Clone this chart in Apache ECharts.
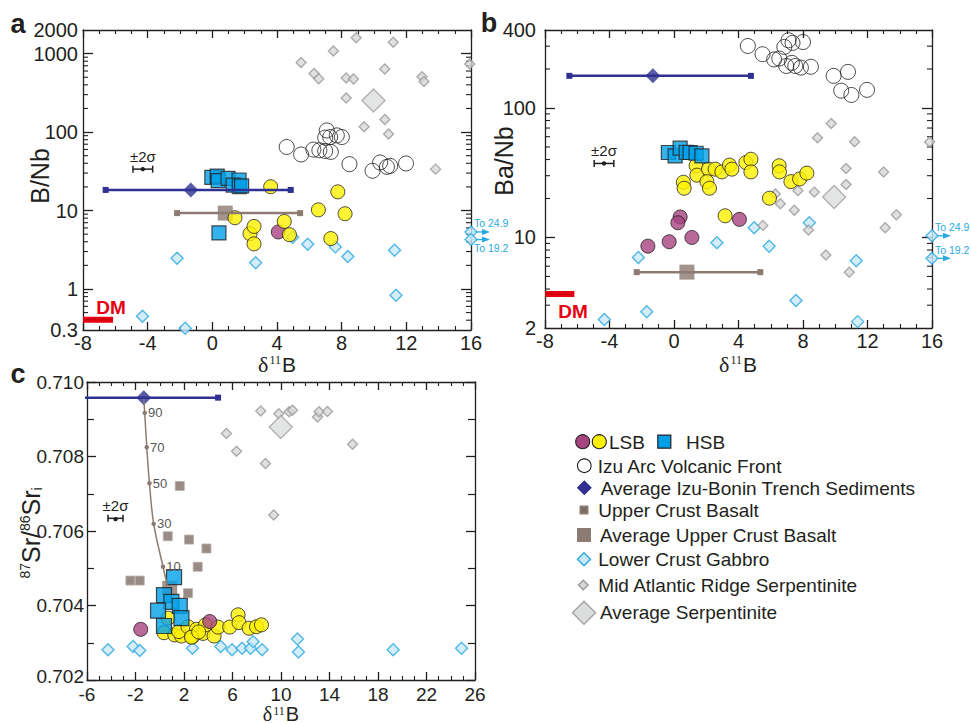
<!DOCTYPE html>
<html><head><meta charset="utf-8">
<script src="https://cdn.jsdelivr.net/npm/echarts@6/dist/echarts.min.js"></script>
<style>html,body{margin:0;padding:0;background:#fff}#c{width:971px;height:724px}</style>
</head><body><div id="c"></div>
<script>
// ---------------- Panel a : δ11B vs B/Nb ----------------
const aLSB = [[3.61,20.1],[1.40,8.1],[2.33,5.07],[2.58,6.27],[2.58,3.76],[4.45,7.26],[4.77,4.92],[6.56,10.2],[7.76,17.3],[8.21,9.1],[7.33,4.39]];
const aLSBp = [[4.08,5.33]];
const aHSB = [[-0.03,26.5],[0.30,27.5],[0.36,24.0],[0.97,25.7],[1.65,24.5],[1.29,21.1],[1.67,20.1],[1.81,20.6],[0.41,5.18]];
const aArc = [[4.60,64.6],[5.49,51.8],[6.25,59.8],[6.62,58.6],[6.98,57.4],[7.33,55.8],[7.08,105],[6.98,84.9],[7.29,86.4],[7.70,90.8],[8.01,86.4],[8.48,39.0],[9.91,32.1],[10.38,41.0],[10.80,36.0],[11.00,37.1],[11.98,39.8]];
const aSerp = [[8.90,1596],[11.19,1393],[7.49,1081],[5.49,769],[6.29,558],[6.58,479],[8.28,488],[8.73,475],[10.67,635],[12.97,507],[13.09,442],[8.28,272],[10.67,145],[9.39,117],[10.90,94.5],[13.81,33.7],[15.92,735]];
const aSerpAvg = [[9.97,252]];
const aGab = [[-2.18,2.47],[2.68,2.16],[4.97,4.55],[5.90,3.71],[7.61,3.44],[8.38,2.59],[11.27,3.12],[11.36,0.83],[-4.32,0.448],[-1.68,0.315],[24.9,5.33],[19.2,4.26]];
const aTrench = [-1.33, 18.3];
const aTrenchRange = [-6.6, 4.85];
const aUCBavg = [0.80, 9.27];
const aUCBRange = [-2.18, 5.43];
const aDM = [[-8, 0.405], [-6.14, 0.405]];
const aSigma = [-4.30, 33.7, 0.61];
const aYLabels = [0.3, 1, 10, 100, 1000, 2000];
const aYMajor = [1, 10, 100, 1000];
const aYMinor = [0.4,0.5,0.6,0.7,0.8,0.9,2,3,4,5,6,7,8,9,20,30,40,50,60,70,80,90,200,300,400,500,600,700,800,900];

// ---------------- Panel b : δ11B vs Ba/Nb ----------------
const bLSB = [[1.37,35.8],[1.42,30.3],[2.14,33.7],[2.55,33.7],[2.97,32.1],[3.44,36.2],[3.59,33.7],[4.46,37.9],[4.77,40.2],[4.77,32.1],[6.52,35.8],[6.54,32.1],[7.25,27.0],[7.79,28.3],[8.24,31.4],[0.58,26.7],[0.63,24.0],[2.04,27.0],[2.20,24.0],[5.92,20.1],[3.17,14.7]];
const bLSBp = [[0.38,14.4],[0.24,13.0],[-0.30,9.27],[-1.62,8.57],[1.11,10.0],[4.06,13.8]];
const bHSB = [[-0.35,45.3],[0.07,42.6],[0.38,48.9],[0.75,45.5],[1.0,45.3],[1.37,44.7],[1.73,42.6]];
const bArc = [[4.58,301],[5.49,260],[6.21,237],[6.53,241],[6.84,296],[7.10,333],[7.35,318],[8.00,323],[6.96,211],[7.31,223],[7.52,211],[7.87,205],[8.49,208],[9.90,177],[10.79,190],[10.37,136],[11.0,126],[11.97,138]];
const bSerp = [[9.75,75.9],[8.90,58.9],[11.2,54.9],[15.85,54.6],[10.67,34.1],[13.0,32.0],[10.67,25.6],[7.69,23.0],[8.70,22.4],[6.28,21.7],[6.59,18.2],[7.46,16.2],[13.79,15.0],[5.51,12.4],[8.34,11.4],[13.10,11.9],[9.42,7.33],[10.87,5.40]];
const bSerpAvg = [[9.93,20.5]];
const bGab = [[-2.21,7.0],[2.66,9.1],[4.97,11.9],[5.90,8.57],[8.39,13.0],[11.30,6.6],[7.56,3.26],[-1.69,2.67],[-4.32,2.33],[11.39,2.24],[24.9,10.3],[19.2,6.9]];
const bTrench = [-1.31, 177];
const bTrenchRange = [-6.49, 4.77];
const bUCBavg = [0.80, 5.40];
const bUCBRange = [-2.31, 5.35];
const bDM = [[-8, 3.66], [-6.18, 3.66]];
const bSigma = [-4.34, 37.3, 0.61];
const bYLabels = [2, 10, 100, 400];
const bYMajor = [10, 100];
const bYMinor = [3,4,5,6,7,8,9,20,30,40,50,60,70,80,90,200,300];

// ---------------- Panel c : δ11B vs 87Sr/86Sr(i) ----------------
const cLSB = [[0.35,0.70327],[0.68,0.70366],[1.24,0.70321],[1.79,0.70318],[1.57,0.70330],[2.33,0.70343],[2.70,0.70316],[3.03,0.70336],[3.57,0.70325],[3.77,0.70348],[4.48,0.70318],[4.81,0.70342],[5.77,0.70342],[6.46,0.70375],[6.54,0.70354],[7.37,0.70339],[7.98,0.70343],[8.39,0.70348],[2.61,0.70315],[3.21,0.70329]];
const cLSBp = [[-1.57,0.70336],[4.12,0.70357]];
const cHSB = [[1.18,0.70476],[0.35,0.70428],[0.96,0.70410],[1.65,0.70399],[-0.14,0.70386],[1.79,0.70366],[0.35,0.70345]];
const cUCB = [[1.65,0.70721],[0.66,0.70586],[2.42,0.70577],[3.85,0.70553],[3.13,0.70504],[-2.42,0.70467],[-1.65,0.70467],[2.33,0.70433]];
const cGab = [[-4.27,0.70281],[-2.20,0.70290],[-1.65,0.70279],[2.70,0.70285],[5.03,0.70290],[5.96,0.70281],[6.79,0.70285],[7.48,0.70285],[7.70,0.70303],[8.44,0.70281],[11.36,0.70310],[11.44,0.70275],[19.25,0.70281],[24.89,0.70285]];
const cSerp = [[8.33,0.70922],[9.82,0.70915],[10.67,0.70920],[10.95,0.70924],[13.01,0.70906],[13.14,0.70920],[13.83,0.70921],[5.50,0.70862],[6.33,0.70814],[8.72,0.70781],[15.90,0.70833],[9.40,0.70643]];
const cSerpAvg = [[9.98,0.70879]];
const cTrench = [-1.32, 0.70958];
const cTrenchRange = [-6.5, 4.81];
const cUCBavg = [0.82, 0.70446];
const cMix = [[-1.32,0.70958],[-1.24,0.70917],[-1.07,0.70825],[-0.85,0.70728],[-0.50,0.70619],[0.27,0.70504],[0.62,0.70455]];
const cMixLabels = ['', '90', '70', '50', '30', '10', ''];
const cSigma = [-3.65, 0.70634, 0.62];

// ---------------- styles ----------------
const INK = '#231f20';
const FONT = '"Liberation Sans", Arial, sans-serif';
const BLUE = '#29A9E0';
const TICKFS = 20;
const ST = {
  lsb:    {symbol:'circle', symbolSize:14, itemStyle:{color:'#FFF100', borderColor:INK, borderWidth:1}},
  lsbP:   {symbol:'circle', symbolSize:14, itemStyle:{color:'#A6447F', borderColor:INK, borderWidth:1}},
  hsb:    {symbol:'rect', symbolSize:14, itemStyle:{color:'#00A0E9', borderColor:INK, borderWidth:1.2}},
  arc:    {symbol:'circle', symbolSize:15, itemStyle:{color:'rgba(255,255,255,0)', borderColor:INK, borderWidth:1}},
  gab:    {symbol:'diamond', symbolSize:12, itemStyle:{color:'#C9E8F8', borderColor:BLUE, borderWidth:1.4}},
  serp:   {symbol:'diamond', symbolSize:10, itemStyle:{color:'#D8D8D8', borderColor:'#9A9A9A', borderWidth:1.4}},
  serpAvg:{symbol:'diamond', symbolSize:23, itemStyle:{color:'#DCDDDD', borderColor:'#A3A3A3', borderWidth:1.4}},
  ucb:    {symbol:'rect', symbolSize:9, itemStyle:{color:'#7E6E66', borderColor:'#B8AEA8', borderWidth:1}},
  ucbAvg: {symbol:'rect', symbolSize:15, itemStyle:{color:'#8C7B72'}},
  trench: {symbol:'diamond', symbolSize:15, itemStyle:{color:'#2E3192'}}
};

function sc(xi, yi, data, st) {
  return Object.assign({type:'scatter', xAxisIndex:xi, yAxisIndex:yi, data, silent:true, animation:false}, st);
}
function errBar(xi, yi, range, y, color) {
  return {type:'line', xAxisIndex:xi, yAxisIndex:yi, data:[[range[0],y],[range[1],y]], symbol:'rect', symbolSize:6,
    showSymbol:true, itemStyle:{color}, lineStyle:{color, width:2.5}, silent:true, animation:false, clip:true};
}
function dmLine(xi, yi, data) {
  return [
    {type:'line', xAxisIndex:xi, yAxisIndex:yi, data, symbol:'none', lineStyle:{color:'#E60012', width:6}, silent:true, animation:false},
    {type:'line', xAxisIndex:xi, yAxisIndex:yi, data, symbol:'none', lineStyle:{color:'#A00A12', width:1, type:'dotted'}, silent:true, animation:false}
  ];
}
function sigma(xi, yi, arr) {
  return {type:'custom', xAxisIndex:xi, yAxisIndex:yi, data:[arr], silent:true, animation:false, clip:false,
    renderItem(p, api) {
      const cx = api.value(0), cy = api.value(1), h = api.value(2);
      const c = api.coord([cx, cy]), l = api.coord([cx - h, cy]), r = api.coord([cx + h, cy]);
      const s = {stroke: INK, lineWidth: 1.5};
      return {type:'group', children:[
        {type:'line', shape:{x1:l[0], y1:c[1], x2:r[0], y2:c[1]}, style:s},
        {type:'line', shape:{x1:l[0], y1:c[1]-3.5, x2:l[0], y2:c[1]+3.5}, style:s},
        {type:'line', shape:{x1:r[0], y1:c[1]-3.5, x2:r[0], y2:c[1]+3.5}, style:s},
        {type:'circle', shape:{cx:c[0], cy:c[1], r:2.2}, style:{fill:INK}},
        {type:'text', x:c[0], y:c[1]-5, style:{text:'±2σ', fill:INK, font:'15px ' + FONT, align:'center', verticalAlign:'bottom', textAlign:'center', textVerticalAlign:'bottom'}}
      ]};
    }};
}
function arrows(xi, yi, pts, xmax, placement) {
  const out = pts.filter(p => p[0] > xmax);
  return {type:'custom', xAxisIndex:xi, yAxisIndex:yi, silent:true, animation:false, clip:false,
    data: out.map(p => [xmax, p[1], p[0]]),
    renderItem(params, api) {
      const c = api.coord([api.value(0), api.value(1)]);
      const above = placement[params.dataIndex] === 'above';
      return {type:'group', children:[
        {type:'line', shape:{x1:c[0], y1:c[1], x2:c[0]+15, y2:c[1]}, style:{stroke:BLUE, lineWidth:1.3}},
        {type:'polygon', shape:{points:[[c[0]+19, c[1]], [c[0]+11, c[1]-3], [c[0]+11, c[1]+3]]}, style:{fill:BLUE}},
        {type:'text', x:c[0]+3, y: above ? c[1]-3 : c[1]+3, style:{text:'To ' + api.value(2), fill:BLUE, font:'10.5px ' + FONT,
          align:'left', verticalAlign: above ? 'bottom' : 'top', textAlign:'left', textVerticalAlign: above ? 'bottom' : 'top'}}
      ]};
    }};
}
function minorTicks(xi, yi, xmin, xmax, vals) {
  return {type:'custom', xAxisIndex:xi, yAxisIndex:yi, silent:true, animation:false, clip:false,
    data: vals.map(v => [xmin, v]),
    renderItem(params, api) {
      const l = api.coord([xmin, api.value(1)]);
      const r = api.coord([xmax, api.value(1)]);
      const s = {stroke: INK, lineWidth: 1.1};
      return {type:'group', children:[
        {type:'line', shape:{x1:l[0], y1:l[1], x2:l[0]+5, y2:l[1]}, style:s},
        {type:'line', shape:{x1:r[0], y1:r[1], x2:r[0]-5, y2:r[1]}, style:s}
      ]};
    }};
}
const capX = (pts, xmax) => pts.map(p => [Math.min(p[0], xmax), p[1]]);

// ---------------- axes ----------------
function xPair(gi, min, max, margin, lh, fs) {
  const mk = (pos, lab) => ({type:'value', gridIndex:gi, position:pos, min, max, interval:4,
    axisLine:{show:true, onZero:false, lineStyle:{color:INK, width:1.3}},
    axisTick:{show:true, inside:true, length:8, lineStyle:{color:INK, width:1.3}},
    minorTick:{show:true, splitNumber:4, length:4, lineStyle:{color:INK, width:1.1}},
    splitLine:{show:false}, minorSplitLine:{show:false},
    axisLabel: lab ? {show:true, color:INK, fontSize:fs, lineHeight:lh, fontFamily:FONT, margin} : {show:false}});
  return [mk('bottom', true), mk('top', false)];
}
function yLogPair(gi, min, max, labels, majors, margin) {
  const mk = (pos, lab) => ({type:'log', logBase:10, gridIndex:gi, position:pos, min, max,
    axisLine:{show:true, onZero:false, lineStyle:{color:INK, width:1.3}},
    axisTick:{show:true, inside:true, length:10, customValues:majors, lineStyle:{color:INK, width:1.3}},
    minorTick:{show:false}, splitLine:{show:false}, minorSplitLine:{show:false},
    axisLabel: lab ? {show:true, customValues:labels, formatter: v => String(Math.round(v * 1000) / 1000),
      color:INK, fontSize:TICKFS, lineHeight:20, fontFamily:FONT, margin} : {show:false}});
  return [mk('left', true), mk('right', false)];
}
function yCPair() {
  const mk = (pos, lab) => ({type:'value', gridIndex:2, position:pos, min:0.702, max:0.710, interval:0.002,
    axisLine:{show:true, onZero:false, lineStyle:{color:INK, width:1.3}},
    axisTick:{show:true, inside:true, length:9, lineStyle:{color:INK, width:1.3}},
    minorTick:{show:true, splitNumber:2, length:7, lineStyle:{color:INK, width:1.2}},
    splitLine:{show:false}, minorSplitLine:{show:false},
    axisLabel: lab ? {show:true, formatter: v => (+v <= 0.7020001 ? '{lo|' + (+v).toFixed(3) + '}' : (+v).toFixed(3)),
      rich:{lo:{fontSize:19, lineHeight:16, padding:[0,0,8,0], color:INK, fontFamily:FONT}},
      color:INK, fontSize:19, lineHeight:16, fontFamily:FONT, margin:3} : {show:false}});
  return [mk('left', true), mk('right', false)];
}

// ---------------- graphic text ----------------
const big = {fontSize:21, lineHeight:20, fontFamily:FONT, fill:INK, color:INK};
const bigC = {fontSize:20, lineHeight:18, fontFamily:FONT, fill:INK, color:INK};
const bigY = {fontSize:25, lineHeight:26, fontFamily:FONT, fill:INK, color:INK};
const del = {fontSize:22, lineHeight:20, fontFamily:'"Liberation Serif", serif', fill:INK, color:INK};
const delC = {fontSize:20, lineHeight:18, fontFamily:'"Liberation Serif", serif', fill:INK, color:INK};
const sup = {fontSize:12, lineHeight:11, verticalAlign:'top', fontFamily:'"Liberation Serif", serif', fill:INK, color:INK, padding:[0,1,0,1]};
const supS = {fontSize:14, lineHeight:14, verticalAlign:'top', fontFamily:FONT, fill:INK, color:INK};
const subS = {fontSize:14, lineHeight:12, verticalAlign:'bottom', fontFamily:FONT, fill:INK, color:INK};
function txt(x, y, text, font, opts) {
  return Object.assign({type:'text', x, y, style:{text, font, fill:INK, align:'center', verticalAlign:'middle', textAlign:'center', textVerticalAlign:'middle'}}, opts || {});
}
function dTitle(x, y, d, b) {
  return {type:'text', x, y, style:{text:'{d|δ}{s|11}{b|B}', rich:{d:d || del, s:sup, b:b || big}, fill:INK, align:'center', verticalAlign:'middle', textAlign:'center', textVerticalAlign:'middle'}};
}
function rotTitle(x, y, text, rich) {
  return {type:'text', x, y, rotation:Math.PI/2, style:{text, rich, font:'25px ' + FONT, fill:INK, align:'center', verticalAlign:'middle', textAlign:'center', textVerticalAlign:'middle'}};
}
function lt(x, y, text) {
  return {type:'text', x, y, style:{text, font:'19px ' + FONT, fill:INK, align:'left', verticalAlign:'middle', textAlign:'left', textVerticalAlign:'middle'}};
}
const dia = (cx, cy, h, fill, stroke, lw) => ({type:'polygon', shape:{points:[[cx, cy-h],[cx+h, cy],[cx, cy+h],[cx-h, cy]]}, style:{fill, stroke: stroke || null, lineWidth: lw || 0}});
const sq = (cx, cy, s, fill, stroke, lw) => ({type:'rect', shape:{x:cx-s/2, y:cy-s/2, width:s, height:s}, style:{fill, stroke: stroke || null, lineWidth: lw || 0}});
const circ = (cx, cy, r, fill, stroke) => ({type:'circle', shape:{cx, cy, r}, style:{fill, stroke, lineWidth:1.1}});

const graphics = [
  txt(18, 24, 'a', 'bold 27px ' + FONT),
  txt(489, 23, 'b', 'bold 27px ' + FONT),
  txt(18, 374, 'c', 'bold 27px ' + FONT),
  rotTitle(40, 176, 'B/Nb'),
  rotTitle(504, 161, 'Ba/Nb'),
  rotTitle(31, 533, '{s|87}{b|Sr/}{s|86}{b|Sr}{i|i}', {s:supS, b:bigY, i:subS}),
  dTitle(277, 364),
  dTitle(738, 364),
  dTitle(281, 714, delC, bigC),
  {type:'text', x:111, y:307, style:{text:'DM', font:'bold 19px ' + FONT, fill:'#E60012', align:'center', verticalAlign:'middle', textAlign:'center', textVerticalAlign:'middle'}},
  {type:'text', x:573, y:311, style:{text:'DM', font:'bold 19px ' + FONT, fill:'#E60012', align:'center', verticalAlign:'middle', textAlign:'center', textVerticalAlign:'middle'}},
  // legend
  circ(582.7, 441.7, 7, '#A6447F', INK), circ(599.3, 441.7, 7, '#FFF100', INK), lt(609, 442, 'LSB'),
  sq(664.3, 441.7, 13, '#00A0E9', INK, 1.2), lt(686, 442, 'HSB'),
  circ(584.3, 465.7, 6.8, '#fff', INK), lt(597.7, 466, 'Izu Arc Volcanic Front'),
  dia(584.3, 487.7, 7.5, '#2E3192'), lt(600.7, 488, 'Average Izu-Bonin Trench Sediments'),
  sq(584, 510, 8.5, '#7E6E66', '#B8AEA8', 1), lt(598.3, 510.5, 'Upper Crust Basalt'),
  sq(584, 535, 14, '#8C7B72'), lt(600, 535.5, 'Average Upper Crust Basalt'),
  dia(584, 559.3, 6.5, '#C9E8F8', BLUE, 1.4), lt(598.3, 559.5, 'Lower Crust Gabbro'),
  dia(583.3, 585, 4.8, '#D8D8D8', '#9A9A9A', 1.4), lt(598.3, 585.5, 'Mid Atlantic Ridge Serpentinite'),
  dia(584, 612.7, 11.5, '#DCDDDD', '#A3A3A3', 1.4), lt(600, 612.7, 'Average Serpentinite')
];

// ---------------- series ----------------
const series = [
  // panel a
  minorTicks(0, 0, -8, 16, aYMinor),
  sc(0, 0, capX(aGab, 16), Object.assign({clip:false}, ST.gab)),
  sc(0, 0, aSerp, ST.serp),
  sc(0, 0, aSerpAvg, ST.serpAvg),
  sc(0, 0, aArc, ST.arc),
  errBar(0, 0, aUCBRange, aUCBavg[1], '#8C7B72'),
  sc(0, 0, [aUCBavg], ST.ucbAvg),
  errBar(0, 0, aTrenchRange, aTrench[1], '#2E3192'),
  sc(0, 0, [aTrench], ST.trench),
  ...dmLine(0, 0, aDM),
  sc(0, 0, aLSBp, ST.lsbP),
  sc(0, 0, aLSB, ST.lsb),
  sc(0, 0, aHSB, ST.hsb),
  sigma(0, 0, aSigma),
  arrows(0, 0, aGab, 16, ['above', 'below']),
  // panel b
  minorTicks(2, 2, -8, 16, bYMinor),
  sc(2, 2, capX(bGab, 16), Object.assign({clip:false}, ST.gab)),
  sc(2, 2, bSerp, ST.serp),
  sc(2, 2, bSerpAvg, ST.serpAvg),
  sc(2, 2, bArc, ST.arc),
  errBar(2, 2, bUCBRange, bUCBavg[1], '#8C7B72'),
  sc(2, 2, [bUCBavg], ST.ucbAvg),
  errBar(2, 2, bTrenchRange, bTrench[1], '#2E3192'),
  sc(2, 2, [bTrench], ST.trench),
  ...dmLine(2, 2, bDM),
  sc(2, 2, bLSBp, ST.lsbP),
  sc(2, 2, bLSB, ST.lsb),
  sc(2, 2, bHSB, ST.hsb),
  sigma(2, 2, bSigma),
  arrows(2, 2, bGab, 16, ['above', 'above']),
  // panel c
  sc(4, 4, cGab, ST.gab),
  sc(4, 4, cSerp, ST.serp),
  sc(4, 4, cSerpAvg, ST.serpAvg),
  sc(4, 4, cUCB, ST.ucb),
  {type:'line', xAxisIndex:4, yAxisIndex:4, smooth:0.35, silent:true, animation:false, showSymbol:true,
    data: cMix.map((p, i) => ({value:p, symbol: cMixLabels[i] ? 'circle' : 'none', symbolSize:4.5,
      label:{show: !!cMixLabels[i], formatter: cMixLabels[i] || ' ', position:'right', distance:1, color:'#595757', fontSize:13, fontFamily:FONT}})),
    lineStyle:{color:'#8C7B72', width:1.5}, itemStyle:{color:'#8C7B72'}},
  sc(4, 4, [cUCBavg], ST.ucbAvg),
  errBar(4, 4, cTrenchRange, cTrench[1], '#2E3192'),
  sc(4, 4, [cTrench], ST.trench),
  sc(4, 4, cLSB, ST.lsb),
  sc(4, 4, cLSBp, ST.lsbP),
  sc(4, 4, cHSB, Object.assign({}, ST.hsb, {symbolSize:15})),
  sigma(4, 4, cSigma)
];

const chart = echarts.init(document.getElementById('c'), null, {renderer:'svg'});
chart.setOption({
  backgroundColor:'#ffffff',
  animation:false,
  textStyle:{fontFamily:FONT},
  grid:[
    {left:83, top:30, width:388, height:300, containLabel:false, outerBoundsMode:'none'},
    {left:545, top:30, width:387, height:298, containLabel:false, outerBoundsMode:'none'},
    {left:87, top:382, width:388, height:298, containLabel:false, outerBoundsMode:'none'}
  ],
  xAxis:[...xPair(0, -8, 16, 3, 20, TICKFS), ...xPair(1, -8, 16, 3, 20, TICKFS), ...xPair(2, -6, 26, 6, 17, 19)],
  yAxis:[...yLogPair(0, 0.3, 2000, aYLabels, aYMajor, 5), ...yLogPair(1, 2, 400, bYLabels, bYMajor, 9), ...yCPair()],
  graphic:{elements: graphics},
  series
});
</script>
</body></html>
